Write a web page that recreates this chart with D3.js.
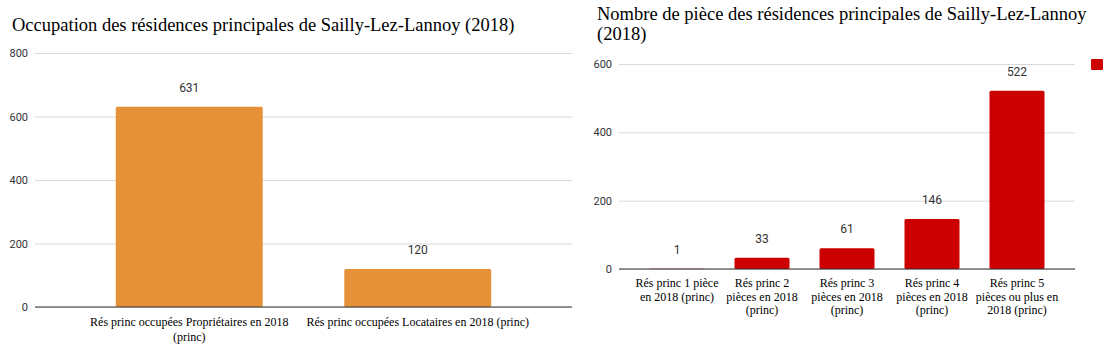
<!DOCTYPE html>
<html>
<head>
<meta charset="utf-8">
<script src="https://cdn.jsdelivr.net/npm/d3@7"></script>
<style>
  body { margin: 0; background: #fff; }
  svg { display: block; }
  .serif { font-family: 'Liberation Serif', 'Times New Roman', Times, serif; }
  .sans { font-family: Roboto, 'Liberation Sans', Arial, sans-serif; }
</style>
</head>
<body>
<svg id="chart" width="1110" height="354"></svg>
<script>
// occupation chart
const occCategories = [
  ['Rés princ occupées Propriétaires en 2018', '(princ)'],
  ['Rés princ occupées Locataires en 2018 (princ)']
]
const occValues = [631, 120]
const occTicks = [0, 200, 400, 600, 800]

// rooms chart
const roomCategories = [
  ['Rés princ 1 pièce', 'en 2018 (princ)'],
  ['Rés princ 2', 'pièces en 2018', '(princ)'],
  ['Rés princ 3', 'pièces en 2018', '(princ)'],
  ['Rés princ 4', 'pièces en 2018', '(princ)'],
  ['Rés princ 5', 'pièces ou plus en', '2018 (princ)']
]
const roomValues = [1, 33, 61, 146, 522]
const roomTicks = [0, 200, 400, 600]

const svg = d3.select('#chart')

function drawChart (opts) {
  const g = svg.append('g')

  g.selectAll('text.title')
    .data(opts.title)
    .join('text')
    .attr('class', 'title serif')
    .attr('x', opts.titleX)
    .attr('y', (d, i) => opts.titleY + i * 20)
    .style('font-size', '18.5px')
    .attr('fill', '#000')
    .text(d => d)

  const y = d3.scaleLinear()
    .domain(opts.yDomain)
    .range([opts.bottom, opts.top])

  const x = d3.scaleBand()
    .domain(opts.values.map((d, i) => i))
    .range(opts.bandRange)
    .paddingInner(opts.padIn)
    .paddingOuter(opts.padIn / 2)

  // grid + tick labels
  const yAxis = g.append('g')
    .attr('transform', `translate(${opts.left},0)`)
    .call(d3.axisLeft(y).tickValues(opts.ticks).tickSize(-(opts.right - opts.left)).tickPadding(7))
  yAxis.attr('font-family', null).attr('font-size', null)
  yAxis.select('.domain').remove()
  yAxis.selectAll('.tick line').attr('stroke', '#d9d9d9')
  yAxis.selectAll('.tick text')
    .attr('class', 'sans')
    .style('font-size', '11px')
    .attr('fill', '#333')

  g.selectAll('rect.bar')
    .data(opts.values)
    .join('rect')
    .attr('class', 'bar')
    .attr('x', (d, i) => x(i))
    .attr('y', d => y(d))
    .attr('width', x.bandwidth())
    .attr('height', d => y(0) - y(d))
    .attr('rx', 1.5)
    .attr('fill', opts.color)

  g.selectAll('text.val')
    .data(opts.values)
    .join('text')
    .attr('class', 'val sans')
    .attr('x', (d, i) => x(i) + x.bandwidth() / 2)
    .attr('y', d => y(d) - 15)
    .attr('text-anchor', 'middle')
    .style('font-size', '12px')
    .attr('fill', '#333')
    .text(d => d)

  // baseline
  g.append('line')
    .attr('x1', opts.left)
    .attr('x2', opts.right)
    .attr('y1', y(0))
    .attr('y2', y(0))
    .attr('stroke', '#333')
    .attr('stroke-width', 1.2)

  const labels = g.selectAll('text.cat')
    .data(opts.categories)
    .join('text')
    .attr('class', 'cat serif')
    .attr('text-anchor', 'middle')
    .style('font-size', '12px')
    .attr('fill', '#000')

  labels.selectAll('tspan')
    .data((d, i) => d.map(line => ({ line, i })))
    .join('tspan')
    .attr('x', d => x(d.i) + x.bandwidth() / 2)
    .attr('y', (d, j) => y(0) + opts.labelDy + j * opts.lineH)
    .text(d => d.line)

  return { x, y }
}

drawChart({
  title: ['Occupation des résidences principales de Sailly-Lez-Lannoy (2018)'],
  titleX: 12,
  titleY: 31,
  values: occValues,
  categories: occCategories,
  ticks: occTicks,
  yDomain: [0, 800],
  top: 53,
  bottom: 307,
  left: 35,
  right: 572,
  bandRange: [75, 532],
  padIn: 0.357,
  color: '#e69138',
  labelDy: 19,
  lineH: 14.5
})

drawChart({
  title: ['Nombre de pièce des résidences principales de Sailly-Lez-Lannoy', '(2018)'],
  titleX: 597,
  titleY: 20,
  values: roomValues,
  categories: roomCategories,
  ticks: roomTicks,
  yDomain: [0, 600],
  top: 64,
  bottom: 269,
  left: 619,
  right: 1075,
  bandRange: [634.5, 1059.5],
  padIn: 0.353,
  color: '#cc0000',
  labelDy: 18,
  lineH: 13.5
})

// legend marker (no label)
svg.append('rect')
  .attr('x', 1091)
  .attr('y', 59)
  .attr('width', 12)
  .attr('height', 11)
  .attr('rx', 1)
  .attr('fill', '#cc0000')
</script>
</body>
</html>
